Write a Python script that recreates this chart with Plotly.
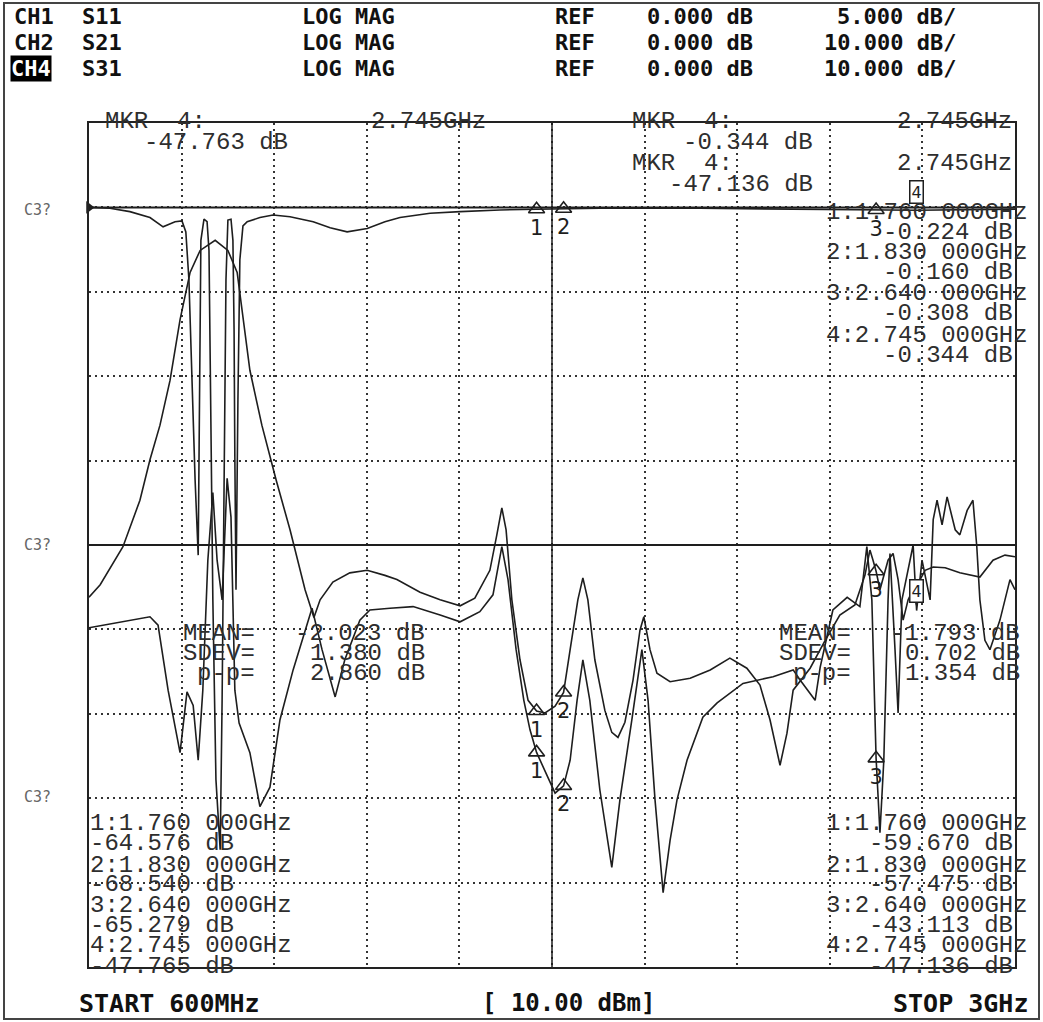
import plotly.graph_objects as go

# ---------------- data (GHz, dB) ----------------
start_ghz, stop_ghz = 0.6, 3.0
ref_db, scale_db = 0.0, 10.0

trace_a_freq = [0.600, 0.654, 0.706, 0.758, 0.792, 0.823, 0.841, 0.851, 0.859, 0.867, 0.875, 0.883,
                0.885, 0.888, 0.890, 0.898, 0.906, 0.911, 0.916, 0.921, 0.929, 0.940, 0.945, 0.950,
                0.955, 0.960, 0.968, 0.973, 0.976, 0.978, 0.981, 0.986, 0.991, 0.999, 1.010, 1.043,
                1.077, 1.121, 1.181, 1.225, 1.269, 1.321, 1.367, 1.406, 1.484, 1.562, 1.665, 1.760,
                1.830, 1.924, 2.184, 2.443, 2.640, 2.745, 3.000]
trace_a_db = [0.0, -0.1, -0.5, -1.2, -2.3, -1.7, -1.6, -2.9, -8.6, -20.5, -32.3, -41.2,
              -28.7, -14.5, -3.9, -1.4, -1.7, -5.1, -22.8, -46.5, -67.8, -76.1, -58.4, -28.7,
              -8.6, -1.5, -1.4, -3.9, -14.5, -29.6, -45.3, -22.8, -6.2, -2.2, -1.7, -1.2,
              -0.9, -1.1, -1.7, -2.4, -2.9, -2.5, -1.7, -1.2, -0.7, -0.5, -0.3, -0.224,
              -0.160, -0.1, -0.1, -0.2, -0.308, -0.344, -0.2]

trace_b_freq = [0.600, 0.629, 0.688, 0.732, 0.758, 0.784, 0.810, 0.836, 0.862, 0.888, 0.927, 0.960,
                0.984, 1.017, 1.048, 1.085, 1.121, 1.160, 1.183, 1.199, 1.232, 1.276, 1.321, 1.367,
                1.398, 1.458, 1.510, 1.562, 1.600, 1.639, 1.657, 1.670, 1.681, 1.696, 1.717, 1.738,
                1.760, 1.782, 1.808, 1.830, 1.847, 1.867, 1.880, 1.893, 1.911, 1.937, 1.955, 1.971,
                1.989, 2.010, 2.028, 2.038, 2.054, 2.072, 2.106, 2.158, 2.210, 2.261, 2.305, 2.339,
                2.365, 2.391, 2.409, 2.425, 2.469, 2.508, 2.546, 2.585, 2.611, 2.624, 2.632, 2.640,
                2.650, 2.671, 2.684, 2.697, 2.710, 2.723, 2.736, 2.745, 2.754, 2.767, 2.788, 2.819,
                2.857, 2.909, 2.943, 2.974, 3.000]
trace_b_db = [-46.2, -44.7, -40.2, -34.7, -29.9, -25.8, -20.5, -13.3, -7.7, -5.1, -3.9, -5.1,
              -7.7, -19.3, -25.8, -32.3, -38.2, -45.3, -48.6, -46.5, -44.4, -43.3, -43.0, -43.6,
              -44.1, -45.6, -46.5, -47.2, -46.3, -43.0, -38.8, -35.6, -38.2, -46.5, -53.6, -58.4,
              -59.670, -59.9, -59.1, -57.475, -52.4, -46.5, -43.9, -46.5, -53.6, -59.6, -62.2, -62.8,
              -61.0, -56.0, -50.1, -48.5, -52.4, -55.2, -56.2, -55.8, -54.8, -53.4, -54.6, -56.6,
              -60.7, -66.1, -62.3, -57.2, -54.6, -51.3, -48.3, -47.1, -43.6, -40.6, -41.8, -43.113,
              -45.3, -41.8, -41.0, -44.1, -48.9, -46.5, -45.3, -47.136, -44.1, -43.0, -42.6, -42.7,
              -43.3, -43.8, -41.8, -41.2, -41.4]

trace_c_freq = [0.600, 0.680, 0.758, 0.779, 0.805, 0.836, 0.854, 0.870, 0.883, 0.895, 0.908, 0.921,
                0.932, 0.945, 0.958, 0.968, 0.978, 0.989, 1.017, 1.043, 1.069, 1.095, 1.129, 1.178,
                1.204, 1.238, 1.263, 1.302, 1.328, 1.380, 1.440, 1.510, 1.562, 1.613, 1.647, 1.670,
                1.686, 1.707, 1.727, 1.743, 1.760, 1.787, 1.808, 1.830, 1.847, 1.865, 1.880, 1.898,
                1.924, 1.955, 1.976, 2.007, 2.033, 2.049, 2.067, 2.088, 2.106, 2.124, 2.150, 2.191,
                2.228, 2.295, 2.373, 2.425, 2.443, 2.482, 2.495, 2.528, 2.565, 2.598, 2.616, 2.629,
                2.640, 2.650, 2.660, 2.671, 2.676, 2.689, 2.697, 2.707, 2.723, 2.736, 2.745, 2.759,
                2.780, 2.788, 2.798, 2.811, 2.824, 2.845, 2.857, 2.876, 2.891, 2.901, 2.909, 2.922,
                2.935, 2.961, 2.987, 3.000]
trace_c_db = [-49.8, -49.1, -48.5, -49.5, -57.2, -64.6, -57.4, -59.0, -65.5, -57.2, -41.8, -33.8,
              -41.8, -46.5, -32.1, -36.7, -57.2, -61.1, -64.6, -71.0, -68.7, -60.7, -54.8, -47.5,
              -52.4, -58.0, -53.6, -48.9, -47.7, -47.5, -47.3, -48.3, -49.1, -47.9, -45.9, -40.2,
              -44.1, -52.4, -58.4, -61.9, -64.576, -67.3, -69.4, -68.540, -65.5, -58.4, -53.6, -58.4,
              -69.0, -78.2, -70.2, -60.7, -52.4, -58.4, -70.2, -81.2, -75.0, -70.2, -65.5, -60.4,
              -58.7, -56.4, -55.6, -54.8, -56.0, -58.4, -54.5, -47.7, -46.2, -47.3, -40.2, -46.5,
              -65.279, -74.1, -65.5, -46.5, -41.0, -52.4, -59.9, -46.5, -43.0, -40.0, -47.765, -41.8,
              -46.5, -37.0, -34.7, -37.6, -34.3, -38.2, -38.8, -35.9, -34.7, -40.2, -46.5, -51.3,
              -52.4, -48.9, -44.1, -45.3]

marker_freq = [1.760, 1.830, 2.640, 2.745]
marker_a_db = [-0.224, -0.160, -0.308, -0.344]
marker_b_db = [-59.670, -57.475, -43.113, -47.136]
marker_c_db = [-64.576, -68.540, -65.279, -47.765]
marker_labels = ["1", "2", "3", "4"]

header_rows = [
    ["CH1", "S11", "LOG MAG", "REF", "0.000 dB", "5.000 dB/"],
    ["CH2", "S21", "LOG MAG", "REF", "0.000 dB", "10.000 dB/"],
    ["CH4", "S31", "LOG MAG", "REF", "0.000 dB", "10.000 dB/"],
]
list_top_right = ["1:1.760 000GHz", "-0.224 dB", "2:1.830 000GHz", "-0.160 dB",
                  "3:2.640 000GHz", "-0.308 dB", "4:2.745 000GHz", "-0.344 dB"]
list_bottom_left = ["1:1.760 000GHz", "-64.576 dB", "2:1.830 000GHz", "-68.540 dB",
                    "3:2.640 000GHz", "-65.279 dB", "4:2.745 000GHz", "-47.765 dB"]
list_bottom_right = ["1:1.760 000GHz", "-59.670 dB", "2:1.830 000GHz", "-57.475 dB",
                     "3:2.640 000GHz", "-43.113 dB", "4:2.745 000GHz", "-47.136 dB"]
stats_left = [("MEAN=", "-2.023 dB"), ("SDEV=", "1.380 dB"), ("p-p=", "2.860 dB")]
stats_right = [("MEAN=", "-1.793 dB"), ("SDEV=", "0.702 dB"), ("p-p=", "1.354 dB")]

# ---------------- layout helpers ----------------
W, H = 1043, 1022
L, R, T, B = 89, 1015, 123, 967
MONO = "DejaVu Sans Mono"
SMALL = "Liberation Mono"
INK = "#1e1e1e"
TXT = "#2e2e2e"


def px(x):
    return (x - L) / (R - L)


def py(y):
    return (B - y) / (B - T)


annotations = []


def text(x, y, s, anchor="left", size=24, bold=False, color=TXT, family=SMALL, **kw):
    annotations.append(dict(
        x=px(x), y=py(y), xref="paper", yref="paper", text=s, showarrow=False,
        xanchor=anchor, yanchor="middle",
        font=dict(family=family, size=size, color=color, weight="bold" if bold else "normal"),
        **kw))


def head(x, y, s, anchor="left", size=22, color="#111", **kw):
    text(x, y, s, anchor=anchor, size=size, bold=True, color=color, family=MONO, **kw)


fig = go.Figure()

for fx, fy in [(trace_a_freq, trace_a_db), (trace_b_freq, trace_b_db), (trace_c_freq, trace_c_db)]:
    fig.add_trace(go.Scatter(x=fx, y=fy, mode="lines", line=dict(color=INK, width=1.6),
                             hoverinfo="skip", showlegend=False))

# marker triangles 1..3 with numbers
for vals in (marker_a_db, marker_b_db, marker_c_db):
    fig.add_trace(go.Scatter(
        x=marker_freq[:3], y=vals[:3], mode="markers+text",
        marker=dict(symbol="triangle-up-open", size=14, color=INK, line=dict(width=1.6, color=INK)),
        text=marker_labels[:3], textposition="bottom center",
        textfont=dict(family="DejaVu Sans", size=21, color=INK),
        hoverinfo="skip", showlegend=False, cliponaxis=False))

# reference position arrow
fig.add_trace(go.Scatter(x=[start_ghz], y=[ref_db], mode="markers",
                         marker=dict(symbol="triangle-right", size=11, color=INK),
                         hoverinfo="skip", showlegend=False, cliponaxis=False))

# active marker 4 boxes
for yv, ys in ((marker_a_db[3], 18), (marker_b_db[3], 14)):
    annotations.append(dict(x=marker_freq[3], y=yv, xref="x", yref="y", text="4", showarrow=False,
                            yshift=ys, font=dict(family="DejaVu Sans", size=16, color=INK),
                            bordercolor=INK, borderwidth=1.5, borderpad=1, bgcolor="white"))

# header
hdr_y = [17, 43, 68]
for i, row in enumerate(header_rows):
    yy = hdr_y[i]
    if i == 2:
        head(10, yy, row[0], color="white", bgcolor="black", borderpad=0)
    else:
        head(12, yy, row[0])
    head(80, yy, row[1])
    head(300, yy, row[2])
    head(553, yy, row[3])
    head(645, yy, row[4])
    head(958, yy, row[5], anchor="right")

# footer
head(77, 1003, "START 600MHz", size=25)
head(568, 1003, "[ 10.00 dBm]", anchor="center", size=24)
head(1030, 1003, "STOP 3GHz", anchor="right", size=25)

# marker readouts
text(103, 122, "MKR  4:")
text(488, 122, "2.745GHz", anchor="right")
text(290, 142, "-47.763 dB", anchor="right")
text(630, 122, "MKR  4:")
text(1014, 122, "2.745GHz", anchor="right")
text(815, 142, "-0.344 dB", anchor="right")
text(630, 164, "MKR  4:")
text(1014, 164, "2.745GHz", anchor="right")
text(815, 184, "-47.136 dB", anchor="right")

list_y = [212, 232, 253, 272, 293, 313, 335, 355]
for s, yy in zip(list_top_right, list_y):
    text(1030 if "GHz" in s else 1015, yy, s, anchor="right")

low_y = [823, 843, 865, 884, 905, 925, 945, 966]
for s, yy in zip(list_bottom_left, low_y):
    text(88, yy, s)
for s, yy in zip(list_bottom_right, low_y):
    text(1030 if "GHz" in s else 1015, yy, s, anchor="right")

stat_y = [633, 653, 673]
for (k, v), yy in zip(stats_left, stat_y):
    text(257, yy, k, anchor="right")
    text(427, yy, v, anchor="right")
for (k, v), yy in zip(stats_right, stat_y):
    text(853, yy, k, anchor="right")
    text(1022, yy, v, anchor="right")

for yy in (210, 545, 797):
    text(22, yy, "C3?", size=15, color="#666", family=MONO)

shapes = [
    # outer border
    dict(type="rect", xref="paper", yref="paper", x0=px(4), x1=px(1039), y0=py(1019), y1=py(3),
         line=dict(color="#444", width=2)),
    # solid reference lines
    dict(type="line", xref="paper", yref="y", x0=0, x1=1, y0=ref_db, y1=ref_db,
         line=dict(color=INK, width=2)),
    dict(type="line", xref="paper", yref="y", x0=0, x1=1, y0=ref_db - 4 * scale_db, y1=ref_db - 4 * scale_db,
         line=dict(color=INK, width=2)),
    dict(type="line", xref="x", yref="paper", x0=(start_ghz + stop_ghz) / 2, x1=(start_ghz + stop_ghz) / 2,
         y0=0, y1=1, line=dict(color=INK, width=1.5)),
]

div_x = (stop_ghz - start_ghz) / 10
fig.update_layout(
    width=W, height=H, margin=dict(l=L, r=W - R, t=T, b=H - B, pad=0),
    paper_bgcolor="white", plot_bgcolor="white",
    annotations=annotations, shapes=shapes,
    xaxis=dict(range=[start_ghz, stop_ghz], tickvals=[start_ghz + div_x * i for i in range(11)],
               showticklabels=False, ticks="", showgrid=True, gridcolor="#333", gridwidth=2,
               griddash="2px,4px", zeroline=False, showline=True, linecolor="#222", linewidth=2,
               mirror=True, fixedrange=True),
    yaxis=dict(range=[ref_db - 9 * scale_db, ref_db + scale_db],
               tickvals=[ref_db - 9 * scale_db + scale_db * i for i in range(11)],
               showticklabels=False, ticks="", showgrid=True, gridcolor="#333", gridwidth=2,
               griddash="2px,4px", zeroline=False, showline=True, linecolor="#222", linewidth=2,
               mirror=True, fixedrange=True),
)

fig.write_html("out.html", config={"displayModeBar": False},
               post_script="document.body.style.margin='0px';document.body.style.padding='0px';"
                           "document.body.style.overflow='hidden';")
